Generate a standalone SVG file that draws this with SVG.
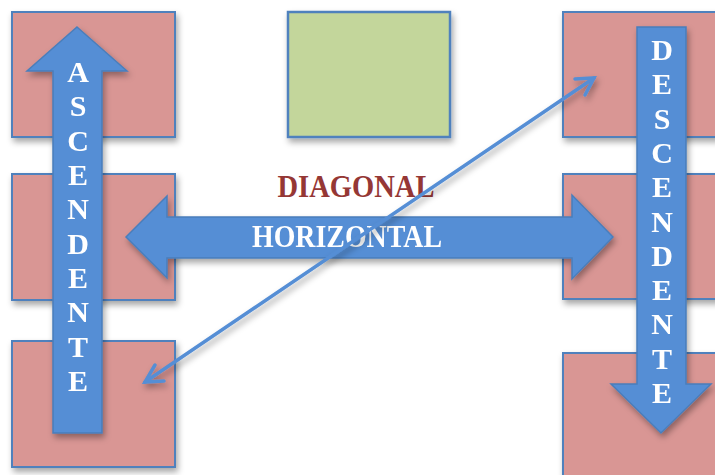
<svg xmlns="http://www.w3.org/2000/svg" width="715" height="475" viewBox="0 0 715 475">
<style>
.box{fill:#D99694;stroke:#4F81BD;stroke-width:2}
.green{fill:#C3D69B;stroke:#4F81BD;stroke-width:2.5}
.arrow{fill:#558ED5;stroke:#4A7EBB;stroke-width:1.5}
.conn{stroke:#558ED5;stroke-width:3.5;fill:none;stroke-linecap:round}
.letter{font-family:"Liberation Serif",serif;font-weight:bold;font-size:30px;fill:#FFFFFF;text-anchor:middle}
.lbl{font-family:"Liberation Serif",serif;font-weight:bold;font-size:32px}
</style>
<defs>
<filter id="sh" x="-20%" y="-20%" width="140%" height="140%">
<feDropShadow dx="2" dy="4" stdDeviation="3" flood-color="#000" flood-opacity="0.35"/>
</filter>
</defs>
<g id="box-l1" filter="url(#sh)"><rect class="box" x="12" y="12" width="163" height="125"/></g>
<g id="box-l2" filter="url(#sh)"><rect class="box" x="12" y="174" width="163" height="126"/></g>
<g id="box-l3" filter="url(#sh)"><rect class="box" x="12" y="341" width="163" height="126"/></g>
<g id="box-green" filter="url(#sh)"><rect class="green" x="288" y="12" width="162" height="125"/></g>
<g id="box-r1" filter="url(#sh)"><rect class="box" x="563" y="12" width="160" height="125"/></g>
<g id="box-r2" filter="url(#sh)"><rect class="box" x="563" y="174" width="160" height="125"/></g>
<g id="box-r3" filter="url(#sh)"><rect class="box" x="563" y="353" width="160" height="130"/></g>
<g id="horizontal" filter="url(#sh)">
<polygon class="arrow" points="126,237 167,196 167,217 572,217 572,195 613,237 572,279 572,258 167,258 167,278"/>
<text class="lbl" x="347" y="247" text-anchor="middle" fill="#FFFFFF" textLength="190" lengthAdjust="spacingAndGlyphs">HORIZONTAL</text>
</g>
<g id="ascendente" filter="url(#sh)">
<polygon class="arrow" points="77,27 127,71 102,71 102,433 53,433 53,71 27,71"/>
<g>
<text class="letter" x="78" y="82">A</text>
<text class="letter" x="78" y="116">S</text>
<text class="letter" x="78" y="151">C</text>
<text class="letter" x="78" y="185">E</text>
<text class="letter" x="78" y="219">N</text>
<text class="letter" x="78" y="254">D</text>
<text class="letter" x="78" y="288">E</text>
<text class="letter" x="78" y="322">N</text>
<text class="letter" x="78" y="357">T</text>
<text class="letter" x="78" y="391">E</text>
</g>
</g>
<g id="descendente" filter="url(#sh)">
<polygon class="arrow" points="637,27 686,27 686,384 711,384 661,433 611,384 637,384"/>
<g>
<text class="letter" x="662" y="60">D</text>
<text class="letter" x="662" y="94">E</text>
<text class="letter" x="662" y="129">S</text>
<text class="letter" x="662" y="163">C</text>
<text class="letter" x="662" y="197">E</text>
<text class="letter" x="662" y="232">N</text>
<text class="letter" x="662" y="266">D</text>
<text class="letter" x="662" y="300">E</text>
<text class="letter" x="662" y="334">N</text>
<text class="letter" x="662" y="369">T</text>
<text class="letter" x="662" y="403">E</text>
</g>
</g>
<g id="diagonal-label">
<text class="lbl" x="356" y="197" text-anchor="middle" fill="#953735" textLength="157" lengthAdjust="spacingAndGlyphs">DIAGONAL</text>
</g>
<g id="connectors" filter="url(#sh)">
<line class="conn" x1="145" y1="382" x2="594" y2="78"/>
<polyline class="conn" points="155,365 145,382 164,381"/>
<polyline class="conn" points="575,79 594,78 585,95"/>
</g>
</svg>
